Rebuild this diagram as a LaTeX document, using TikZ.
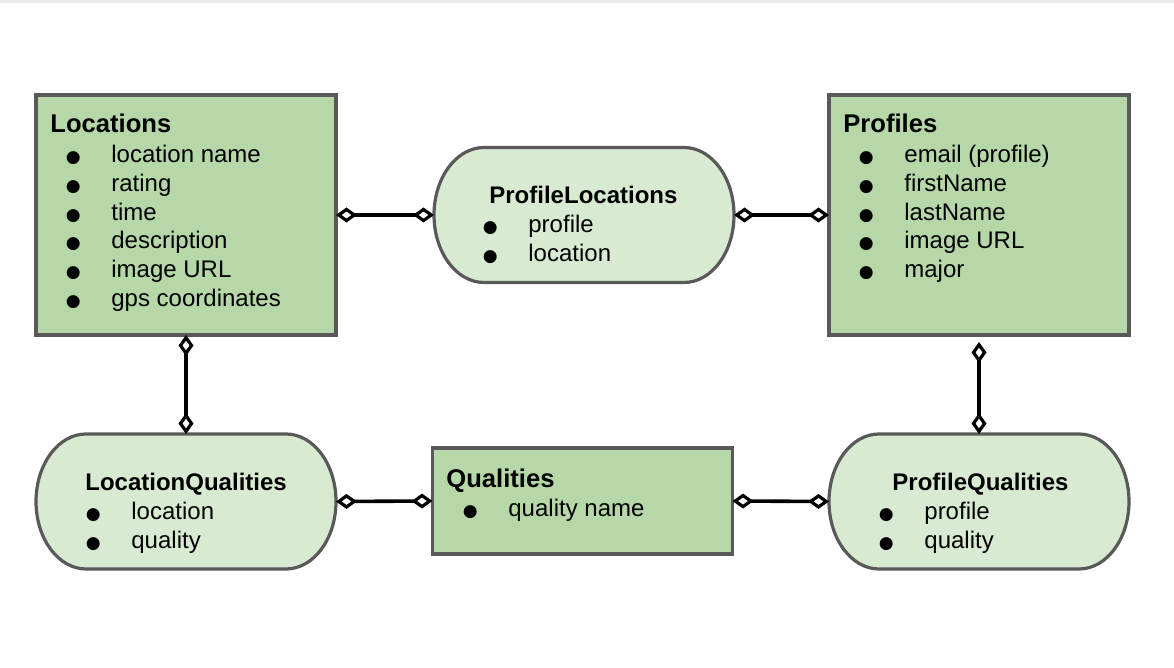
\documentclass[tikz,border=0pt]{standalone}
\usepackage{fontspec}
\setmainfont{Liberation Sans}
\newfontfamily\dotfont{DejaVu Sans}
\usepackage{xcolor}
\usepackage{tikz}
\usetikzlibrary{arrows.meta}

\definecolor{entgreen}{HTML}{B6D7A8}
\definecolor{relgreen}{HTML}{D9EAD3}
\definecolor{edgegray}{HTML}{595959}
\newcommand{\bul}{\llap{\makebox[0pt]{\dotfont\fontsize{8.5}{8.5}\selectfont ●}\hspace{19pt}}}

\begin{document}
\begin{tikzpicture}[x=0.5pt,y=-0.5pt,
  entity/.style={draw=edgegray, fill=entgreen, line width=1.6pt, minimum width=150pt, outer sep=0pt, inner sep=0pt},
  relbox/.style={minimum width=150pt, minimum height=67.5pt, outer sep=0pt, inner sep=0pt},
  relline/.style={draw=edgegray, fill=relgreen, line width=1.6pt},
  ttl/.style={anchor=base west, inner sep=0pt, font=\fontsize{12.8}{15}\selectfont\bfseries},
  rttl/.style={ttl, font=\fontsize{12}{14}\selectfont\bfseries},
  itm/.style={anchor=base west, inner sep=0pt, font=\fontsize{12}{14}\selectfont},
  conn/.style={draw, black, line width=1.8pt,
    {Diamond[open,length=10.5pt,width=7.5pt,line width=1.6pt]}-{Diamond[open,length=10.5pt,width=7.5pt,line width=1.6pt]}}]
\useasboundingbox (0,0) rectangle (1174,668);
\fill[black!7] (0,0) rectangle (1174,3);

% entity boxes
\node[entity, minimum height=120pt] (loc) at (186,215) {};
\node[entity, minimum height=120pt] (prof) at (979,215) {};
\node[entity, minimum height=53pt] (qual) at (582.5,501) {};

% link boxes, drawn as stadiums
\node[relbox] (pl) at (584,215) {};
\node[relbox] (lq) at (186,501.5) {};
\node[relbox] (pq) at (979,501.5) {};
\foreach \n in {pl,lq,pq}
  \draw[relline] ([xshift=25pt]\n.north west) -- ([xshift=-25pt]\n.north east)
    arc[start angle=90, end angle=-90, x radius=25pt, y radius=33.75pt]
    -- ([xshift=25pt]\n.south west)
    arc[start angle=270, end angle=90, x radius=25pt, y radius=33.75pt] -- cycle;

% Locations
\node[ttl] (loc-t) at (50,132.5) {Locations};
\foreach \t [count=\i] in {location name, rating, time, description, image URL, gps coordinates}
  \node[itm] (loc-\i) at (111,{133.7+28.8*\i}) {\bul \t};

% Profiles
\node[ttl] (prof-t) at (843,132.5) {Profiles};
\foreach \t [count=\i] in {email (profile), firstName, lastName, image URL, major}
  \node[itm] (prof-\i) at (904,{133.7+28.8*\i}) {\bul \t};

% ProfileLocations
\node[rttl] (pl-t) at (489,203.5) {ProfileLocations};
\foreach \t [count=\i] in {profile, location}
  \node[itm] (pl-\i) at (528,{204.5+28.4*\i}) {\bul \t};

% LocationQualities
\node[rttl] (lq-t) at (85,490.5) {LocationQualities};
\foreach \t [count=\i] in {location, quality}
  \node[itm] (lq-\i) at (131,{491.5+28.4*\i}) {\bul \t};

% Qualities
\node[ttl] (qual-t) at (446,487.5) {Qualities};
\node[itm] (qual-1) at (508,516.5) {\bul quality name};

% ProfileQualities
\node[rttl] (pq-t) at (892,490.5) {ProfileQualities};
\foreach \t [count=\i] in {profile, quality}
  \node[itm] (pq-\i) at (924,{491.5+28.4*\i}) {\bul \t};

% connectors
\draw[conn] (loc.east) -- (pl.west);
\draw[conn] (pl.east) -- (prof.west);
\draw[conn] (loc.south) -- (lq.north);
\draw[conn, shorten <=3.5pt] (prof.south) -- (pq.north);
\draw[conn] (lq.east) -- (qual.west);
\draw[conn] (qual.east) -- (pq.west);
\end{tikzpicture}
\end{document}
